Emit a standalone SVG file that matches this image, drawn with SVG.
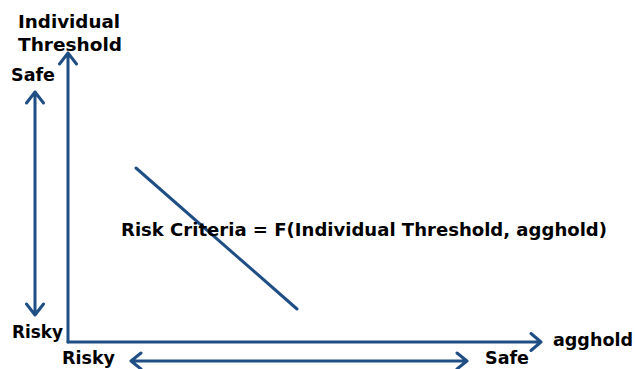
<svg xmlns="http://www.w3.org/2000/svg" width="635" height="369" viewBox="0 0 635 369">
<style>
.t{font-family:"DejaVu Sans","Liberation Sans",sans-serif;font-weight:bold;font-size:17px;fill:#000}
.l{stroke:#1f4e85;stroke-width:3;fill:none;stroke-linecap:round;stroke-linejoin:round}
</style>
<rect width="635" height="369" fill="#fff"/>
<g id="connectors">
<path class="l" d="M68,342 V53 M59.5,64 L68,53 L76.5,64"/>
<path class="l" d="M68,342 H541 M531,333.5 L541,342 L531,350.5"/>
<path class="l" d="M35,92 V315 M26.5,103 L35,92 L43.5,103 M26.5,304 L35,315 L43.5,304"/>
<path class="l" d="M131,361 H467 M141,353 L131,361 L141,369 M457,353 L467,361 L457,369"/>
<path class="l" d="M136,168 L297,309"/>
</g>
<g id="label-y"><text class="t" x="18" y="28" textLength="102" lengthAdjust="spacingAndGlyphs">Individual</text><text class="t" x="18" y="51" textLength="104" lengthAdjust="spacingAndGlyphs">Threshold</text></g>
<g id="label-safe-y"><text class="t" x="11" y="81" textLength="44" lengthAdjust="spacingAndGlyphs">Safe</text></g>
<g id="label-risky-y"><text class="t" x="12" y="338" textLength="51" lengthAdjust="spacingAndGlyphs">Risky</text></g>
<g id="label-x"><text class="t" x="553" y="346" textLength="80" lengthAdjust="spacingAndGlyphs">agghold</text></g>
<g id="label-risky-x"><text class="t" x="62" y="364" textLength="53" lengthAdjust="spacingAndGlyphs">Risky</text></g>
<g id="label-safe-x"><text class="t" x="485" y="364" textLength="44" lengthAdjust="spacingAndGlyphs">Safe</text></g>
<g id="label-formula"><text class="t" x="121" y="236" textLength="486" lengthAdjust="spacingAndGlyphs">Risk Criteria = F(Individual Threshold, agghold)</text></g>
</svg>
